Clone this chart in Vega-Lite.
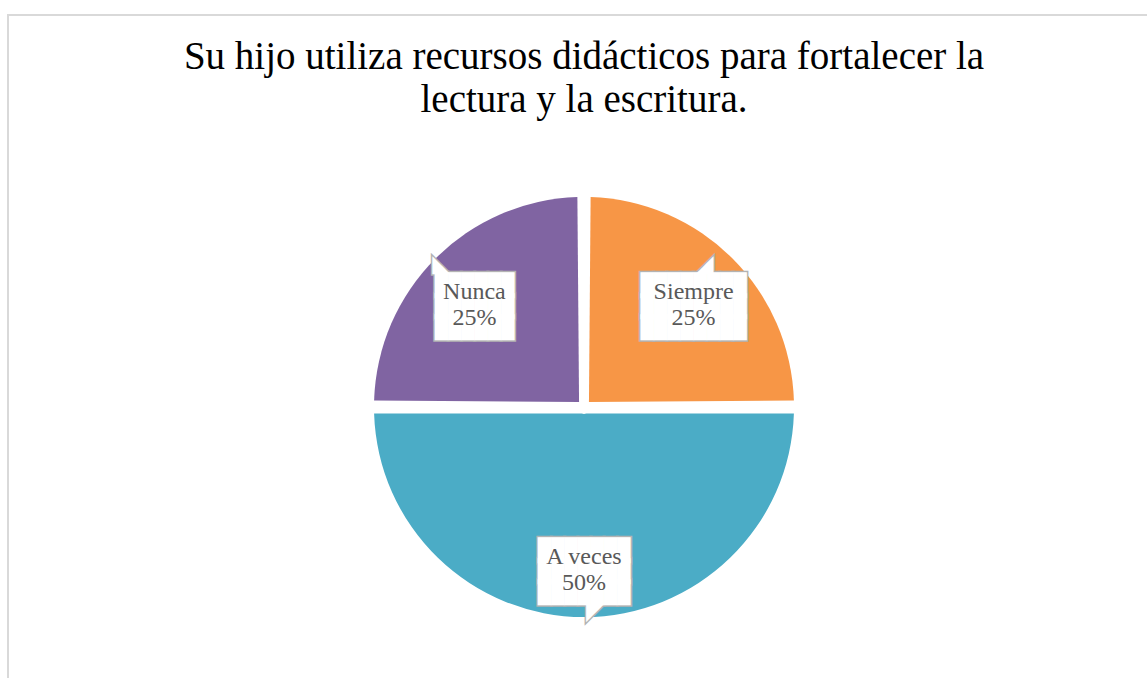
{
  "$schema": "https://vega.github.io/schema/vega-lite/v6.json",
  "width": 1152,
  "height": 784,
  "autosize": {"type": "none"},
  "padding": {"left": 8, "top": 15, "right": 0, "bottom": 0},
  "background": "white",
  "view": {"stroke": "#d9d9d9", "strokeWidth": 2},
  "title": {
    "text": ["Su hijo utiliza recursos didácticos para fortalecer la", "lectura y la escritura."],
    "font": "Liberation Serif",
    "fontSize": 39,
    "fontWeight": "normal",
    "color": "#000000",
    "lineHeight": 43,
    "anchor": "middle",
    "offset": -105
  },
  "data": {
    "values": [
      {"respuesta": "Siempre", "porcentaje": 0.25, "orden": 1},
      {"respuesta": "A veces", "porcentaje": 0.5, "orden": 2},
      {"respuesta": "Nunca", "porcentaje": 0.25, "orden": 3}
    ]
  },
  "encoding": {
    "theta": {"field": "porcentaje", "type": "quantitative", "stack": true},
    "order": {"field": "orden", "type": "quantitative"}
  },
  "layer": [
    {
      "mark": {"type": "arc", "outerRadius": 210, "innerRadius": 7, "padAngle": 0.063},
      "encoding": {
        "color": {
          "field": "respuesta",
          "type": "nominal",
          "scale": {"domain": ["Siempre", "A veces", "Nunca"], "range": ["#F79646", "#4BACC6", "#8064A2"]},
          "legend": null
        }
      }
    },
    {
      "mark": {"type": "text", "radius": 155, "dy": -11, "font": "DejaVu Sans Mono", "fontSize": 22, "lineHeight": 21, "fill": "#b3b3b3", "stroke": "#b3b3b3", "strokeWidth": 3, "align": "center", "baseline": "middle"},
      "encoding": {
        "text": {
          "condition": [
            {"test": "datum.respuesta === 'Siempre'", "value": ["████████", "████████", "████████"]},
            {"test": "datum.respuesta === 'A veces'", "value": ["███████", "███████", "███████"]}
          ],
          "value": ["██████", "██████", "██████"]
        }
      }
    },
    {
      "mark": {"type": "text", "radius": 155, "dy": -24, "font": "DejaVu Sans Mono", "fontSize": 30, "lineHeight": 83, "fill": "#b3b3b3", "stroke": "#b3b3b3", "strokeWidth": 3, "align": "center", "baseline": "alphabetic"},
      "encoding": {
        "text": {
          "condition": [
            {"test": "datum.respuesta === 'Siempre'", "value": ["⠀⠀◢⠀"]},
            {"test": "datum.respuesta === 'A veces'", "value": ["⠀⠀", "⠀◤"]}
          ],
          "value": ["◣⠀⠀⠀"]
        }
      }
    },
    {
      "mark": {"type": "text", "radius": 155, "dy": -11, "font": "DejaVu Sans Mono", "fontSize": 22, "lineHeight": 21, "fill": "#ffffff", "align": "center", "baseline": "middle"},
      "encoding": {
        "text": {
          "condition": [
            {"test": "datum.respuesta === 'Siempre'", "value": ["████████", "████████", "████████"]},
            {"test": "datum.respuesta === 'A veces'", "value": ["███████", "███████", "███████"]}
          ],
          "value": ["██████", "██████", "██████"]
        }
      }
    },
    {
      "mark": {"type": "text", "radius": 155, "dy": -24, "font": "DejaVu Sans Mono", "fontSize": 30, "lineHeight": 83, "fill": "#ffffff", "align": "center", "baseline": "alphabetic"},
      "encoding": {
        "text": {
          "condition": [
            {"test": "datum.respuesta === 'Siempre'", "value": ["⠀⠀◢⠀"]},
            {"test": "datum.respuesta === 'A veces'", "value": ["⠀⠀", "⠀◤"]}
          ],
          "value": ["◣⠀⠀⠀"]
        }
      }
    },
    {
      "mark": {"type": "text", "radius": 155, "dy": -5, "font": "Liberation Serif", "fontSize": 24, "fill": "#595959", "align": "center", "baseline": "middle"},
      "encoding": {"text": {"field": "respuesta", "type": "nominal"}}
    },
    {
      "mark": {"type": "text", "radius": 155, "dy": 21, "font": "Liberation Serif", "fontSize": 24, "fill": "#595959", "align": "center", "baseline": "middle"},
      "encoding": {"text": {"field": "porcentaje", "type": "quantitative", "format": ".0%"}}
    }
  ]
}
